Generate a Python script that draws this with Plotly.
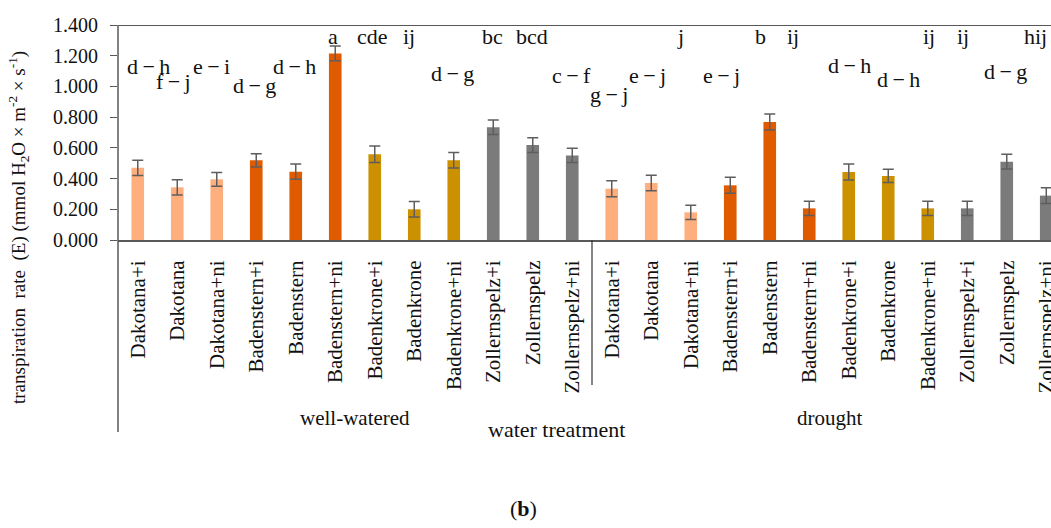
import plotly.graph_objects as go

# ---------------- data ----------------
cultivars = ["Dakotana+i", "Dakotana", "Dakotana+ni",
             "Badenstern+i", "Badenstern", "Badenstern+ni",
             "Badenkrone+i", "Badenkrone", "Badenkrone+ni",
             "Zollernspelz+i", "Zollernspelz", "Zollernspelz+ni"]
groups = ["well-watered", "drought"]

ww_values = [0.470, 0.343, 0.395, 0.519, 0.445, 1.215,
             0.558, 0.200, 0.519, 0.734, 0.618, 0.551]
ww_err = [0.050, 0.050, 0.045, 0.043, 0.050, 0.048,
          0.054, 0.050, 0.050, 0.047, 0.048, 0.046]
dr_values = [0.334, 0.371, 0.180, 0.356, 0.768, 0.206,
             0.443, 0.417, 0.206, 0.206, 0.510, 0.289]
dr_err = [0.052, 0.050, 0.046, 0.052, 0.052, 0.046,
          0.052, 0.043, 0.046, 0.046, 0.048, 0.052]

ww_letters = ["d−h", "f−j", "e−i", "d−g", "d−h", "a",
              "cde", "ij", "d−g", "bc", "bcd", "c−f"]
dr_letters = ["g−j", "e−j", "j", "e−j", "b", "ij",
              "d−h", "d−h", "ij", "ij", "d−g", "hij"]

y_ticks = [0.0, 0.2, 0.4, 0.6, 0.8, 1.0, 1.2, 1.4]

# ---------------- layout / style (not data) ----------------
genotype_colors = ["#FFAE7E", "#E05A00", "#CC9100", "#7B7B7B"]
label_h = [1.128, 1.031, 1.128, 1.003, 1.128, 1.324, 1.324, 1.324, 1.085, 1.324, 1.324, 1.074,
           0.949, 1.068, 1.324, 1.072, 1.324, 1.324, 1.139, 1.042, 1.324, 1.324, 1.096, 1.324]
label_dx = [11, -4, -5, -2, -1, -2, -2, -5, -1, -1, -1, -1,
            -3, -4, -10, -9, -9, -16, 1, 10, 1, -4, -1, -11]

FONT = "Liberation Serif"
AX = "#595959"

n = len(cultivars)
fig = go.Figure()
all_vals = [ww_values, dr_values]
all_errs = [ww_err, dr_err]
for g in range(2):
    xs = [g * n + i for i in range(n)]
    cols = [genotype_colors[i // 3] for i in range(n)]
    fig.add_trace(go.Bar(
        x=xs, y=all_vals[g], name=groups[g],
        marker=dict(color=cols, line=dict(width=0)),
        error_y=dict(type="data", array=all_errs[g], visible=True,
                     color="#5E5E5E", thickness=1.5, width=5.5),
        showlegend=False))

# letters
letters = ww_letters + dr_letters
for k, t in enumerate(letters):
    t = t.replace("−", "\u2009−\u2009")
    fig.add_annotation(x=k, y=label_h[k], xref="x", yref="y", text=t,
                       showarrow=False, xshift=label_dx[k], yanchor="middle",
                       font=dict(family=FONT, size=22, color="#111111"))

W, H = 1051, 528
L, T, B = 118, 25, 288
plot_w = W - L
plot_h = H - T - B
cat_px = 39.5

def py(pix):
    return (H - B - pix) / plot_h

def px(pix):
    return (pix - L) / plot_w

# group labels
for g in range(2):
    fig.add_annotation(x=g * n + (n - 1) / 2, y=py(418), xref="x", yref="paper",
                       text=groups[g], showarrow=False, yanchor="middle",
                       font=dict(family=FONT, size=21, color="#111111"))
fig.add_annotation(x=px(556), y=py(429), xref="paper", yref="paper",
                   text="water treatment", showarrow=False, yanchor="middle",
                   font=dict(family=FONT, size=22, color="#111111"))
fig.add_annotation(x=px(523), y=py(508), xref="paper", yref="paper",
                   text="(<b>b</b>)", showarrow=False, yanchor="middle",
                   font=dict(family=FONT, size=22, color="#111111"))
fig.add_annotation(x=px(18), y=py(228), xref="paper", yref="paper", textangle=-90,
                   text="transpiration\u00a0\u00a0rate\u00a0\u00a0(E)\u00a0(mmol\u00a0H<sub>2</sub>O\u00a0×\u00a0m<sup>-2</sup>\u00a0×\u00a0s<sup>-1</sup>)",
                   showarrow=False, xanchor="center", yanchor="middle",
                   font=dict(family=FONT, size=19, color="#111111"))

# lines
fig.add_shape(type="line", xref="paper", yref="y", x0=0, x1=1, y0=1.4, y1=1.4,
              line=dict(color=AX, width=2))
fig.add_shape(type="line", xref="paper", yref="paper", x0=0, x1=0, y0=py(432), y1=1,
              line=dict(color=AX, width=1.5))
fig.add_shape(type="line", xref="x", yref="paper", x0=n - 0.5, x1=n - 0.5, y0=py(385), y1=0,
              line=dict(color="#333333", width=1.2))

fig.update_layout(
    width=W, height=H,
    margin=dict(l=L, r=0, t=T, b=B, autoexpand=False),
    paper_bgcolor="white", plot_bgcolor="white",
    bargap=0.68,
    font=dict(family=FONT, color="#111111"),
    xaxis=dict(range=[-0.5, -0.5 + plot_w / cat_px],
               tickvals=list(range(2 * n)), ticktext=cultivars + cultivars,
               tickangle=-90, ticks="", showgrid=False, zeroline=False,
               showline=True, linecolor=AX, linewidth=2,
               ticklabelstandoff=10, ticklabeloverflow="allow",
               tickfont=dict(family=FONT, size=21, color="#111111")),
    yaxis=dict(range=[0, 1.4], tickvals=y_ticks, tickformat=".3f",
               ticks="outside", ticklen=7, tickcolor=AX, tickwidth=1.2,
               showgrid=False, zeroline=False, showline=False,
               ticklabelstandoff=8,
               tickfont=dict(family=FONT, size=20, color="#111111")),
)

fig.write_html("out.html", config={"displayModeBar": False},
               post_script="document.body.style.margin='0';document.body.style.overflow='hidden';")
